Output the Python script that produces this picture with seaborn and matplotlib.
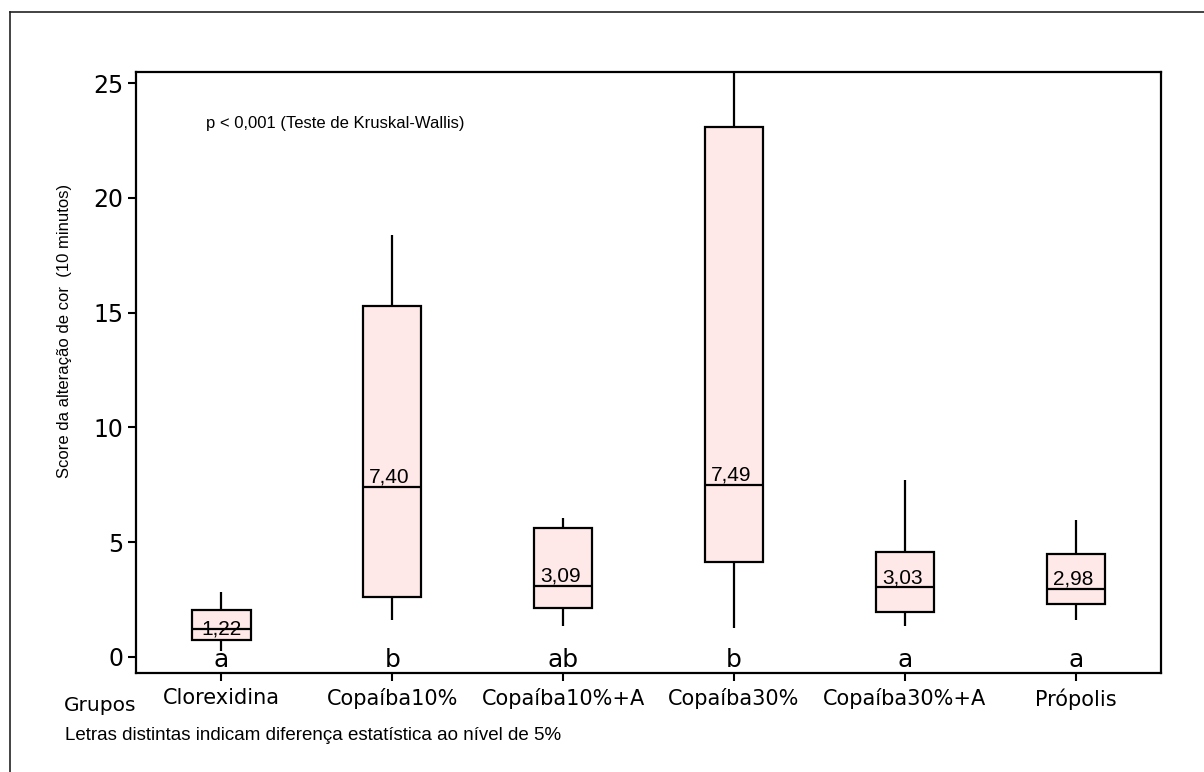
import numpy as np
import pandas as pd
import matplotlib
matplotlib.use("Agg")
import matplotlib.pyplot as plt
from matplotlib.lines import Line2D
import seaborn as sns

# five-number summaries (min, Q1, median, Q3, max)
grupos = ["Clorexidina", "Copaíba10%", "Copaíba10%+A", "Copaíba30%", "Copaíba30%+A", "Própolis"]
minimos = [0.25, 1.60, 1.35, 1.27, 1.35, 1.60]
q1 = [0.74, 2.60, 2.13, 4.13, 1.96, 2.30]
medianas = [1.22, 7.40, 3.09, 7.49, 3.03, 2.98]
q3 = [2.04, 15.30, 5.60, 23.10, 4.57, 4.48]
maximos = [2.83, 18.40, 6.04, 26.50, 7.70, 5.96]
letras = ["a", "b", "ab", "b", "a", "a"]

# long table: each group gets its 5 summary values so the box stats match exactly
linhas = []
for i, g in enumerate(grupos):
    for v in (minimos[i], q1[i], medianas[i], q3[i], maximos[i]):
        linhas.append({"Grupo": g, "Score": v})
df = pd.DataFrame(linhas)

plt.rcParams["font.family"] = ["DejaVu Sans"]
arial = ["Liberation Sans", "DejaVu Sans"]

fig = plt.figure(figsize=(12.04, 7.72), dpi=100)
ax = fig.add_axes([0.113, 0.1282, 0.8514, 0.7785])

sns.boxplot(data=df, x="Grupo", y="Score", order=grupos, ax=ax,
            whis=np.inf, width=0.34, color="#FFE8E8", saturation=1,
            linecolor="black", linewidth=1.6, showcaps=False)

ax.set_xlim(-0.5, 5.5)
ax.set_ylim(-0.70, 25.48)
ax.set_yticks([0, 5, 10, 15, 20, 25])
ax.tick_params(axis="y", labelsize=17, length=6, width=1.5, pad=3)
ax.tick_params(axis="x", labelsize=15, length=6, width=1.5, pad=5)
for s in ax.spines.values():
    s.set_linewidth(1.6)

ax.set_xlabel("")
ax.set_ylabel("Score da alteração de cor  (10 minutos)", fontsize=12, family=arial)
ax.yaxis.set_label_coords(-0.062, 0.569)

# median labels and significance letters
for i, m in enumerate(medianas):
    txt = f"{m:.2f}".replace(".", ",")
    if q3[i] - q1[i] < 2:
        ax.text(i, m, txt, ha="center", va="center", fontsize=15, family=arial)
    else:
        ax.annotate(txt, (i, m), xytext=(-2, 3), textcoords="offset points",
                    ha="center", va="baseline", fontsize=15, family=arial)
    ax.text(i, -0.45, letras[i], ha="center", va="baseline", fontsize=18)

ax.text(0.068, 0.907, "p < 0,001 (Teste de Kruskal-Wallis)", transform=ax.transAxes,
        fontsize=12, family=arial, va="baseline")

fig.text(64 / 1204, 1 - 711 / 772, "Grupos", fontsize=14.5, va="baseline")
fig.text(65 / 1204, 1 - 740 / 772,
         "Letras distintas indicam diferença estatística ao nível de 5%",
         fontsize=13.5, family=arial, va="baseline")

# outer frame (only top and left edges fall inside the image)
fig.add_artist(Line2D([10 / 1204, 10 / 1204], [0, 1 - 12 / 772], color="#222222", lw=1.2,
                      transform=fig.transFigure))
fig.add_artist(Line2D([10 / 1204, 1], [1 - 12 / 772, 1 - 12 / 772], color="#222222", lw=1.2,
                      transform=fig.transFigure))

fig.savefig("out.png", dpi=100)
